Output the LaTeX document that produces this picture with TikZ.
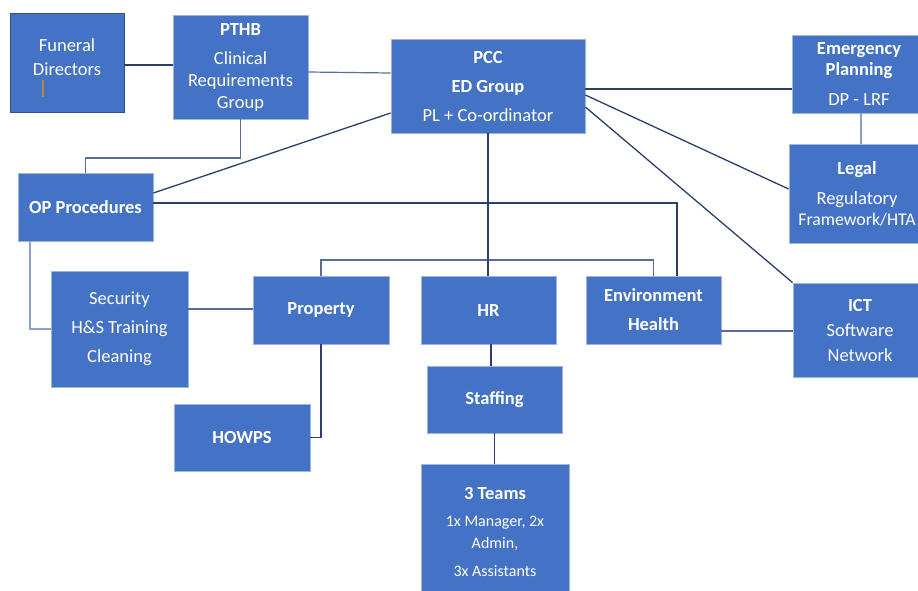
\documentclass[tikz,border=0pt]{standalone}
\usepackage{fontspec}
\setmainfont{Carlito}
\definecolor{boxfill}{HTML}{4472C4}
\definecolor{boxedge}{HTML}{9DB5E2}
\definecolor{darkedge}{HTML}{2F528F}
\definecolor{lnk}{HTML}{2C3F6C}
\definecolor{lnkmid}{HTML}{5A6D98}
\definecolor{lnklight}{HTML}{8AA2D0}
\definecolor{cursorc}{HTML}{B8873A}
\newcommand{\mfont}{\fontsize{18.5}{22}\selectfont}
\newcommand{\sfont}{\fontsize{16}{18}\selectfont}
\tikzset{
  box/.style={rectangle, fill=boxfill, draw=boxedge, line width=0.8pt, text=white,
    align=center, inner sep=0pt, font=\mfont},
  txt/.style={text=white, align=center, inner sep=0pt, font=\mfont},
  link/.style={draw=lnk, line width=1.3pt},
  linkmid/.style={draw=lnkmid, line width=1.2pt},
  linklight/.style={draw=lnklight, line width=1.2pt}
}
\begin{document}
\begin{tikzpicture}[x=1pt,y=-1pt]
\useasboundingbox (0,0) rectangle (918,590);
\fill[white] (0,0) rectangle (918,590);
\clip (0,0) rectangle (918,590);

% boxes
\node[box, draw=darkedge, minimum width=114pt, minimum height=99pt] (fun) at (67,62.5) {};
\node[txt] (funt) at (67,57) {Funeral\\[2pt]Directors};
\draw[cursorc, line width=1.2pt] (43,80) -- (43,97);

\node[box, minimum width=135pt, minimum height=104pt] (pthb) at (240.5,67)
  {\textbf{PTHB}\\[7pt]Clinical\\Requirements\\Group};
\node[box, minimum width=194pt, minimum height=94pt] (pcc) at (488,86)
  {\textbf{PCC}\\[7pt]\textbf{ED Group}\\[7pt]PL + Co-ordinator};
\node[box, minimum width=134pt, minimum height=78pt] (emer) at (859,74)
  {\textbf{Emergency}\\[-1pt]\textbf{Planning}\\[8pt]DP - LRF};
\node[box, minimum width=136pt, minimum height=99pt] (legal) at (857,193.5)
  {\textbf{Legal}\\[8pt]Regulatory\\[-1pt]{\fontsize{17.8}{21}\selectfont Framework/HTA}};
\node[box, minimum width=135pt, minimum height=68pt] (op) at (85.5,207)
  {\textbf{OP Procedures}};
\node[box, minimum width=137pt, minimum height=116pt] (sec) at (119.5,329)
  {Security\\[7pt]H\&S Training\\[7pt]Cleaning};
\node[box, minimum width=136pt, minimum height=68pt] (prop) at (321,310)
  {\textbf{Property}};
\node[box, minimum width=136pt, minimum height=67pt] (howps) at (242,437.5)
  {\textbf{HOWPS}};
\node[box, minimum width=135pt, minimum height=68pt] (hr) at (488.5,310)
  {\textbf{HR}};
\node[box, minimum width=135pt, minimum height=68pt] (env) at (653.5,310)
  {\textbf{Environment}\\[7pt]\textbf{Health}};
\node[box, minimum width=134pt, minimum height=94pt] (ict) at (860,330)
  {\textbf{ICT}\\[3pt]Software\\[3pt]Network};
\node[box, minimum width=135pt, minimum height=67pt] (staff) at (494.5,399.5)
  {\textbf{Staffing}};
\node[box, minimum width=148pt, minimum height=136pt] (teams) at (495,532)
  {\textbf{3 Teams}\\[5pt]{\sfont 1x Manager, 2x}\\{\sfont Admin,}\\[6pt]{\sfont 3x Assistants}};

% connectors
\draw[link] (fun.east |- 0,65) -- (pthb.west |- 0,65);
\draw[linkmid] (pthb.east |- 0,72) -- (pcc.west |- 0,73);
\draw[linkmid] (pthb.south) -- (pthb.south |- 0,158) -| (op.north);
\draw[link] (pcc.west |- 0,113) -- (op.east |- 0,193);
\draw[link] (op.east |- 0,203) -| ([xshift=23.5pt]env.north);
\draw[linklight] ([xshift=-55.5pt]op.south) |- (sec.west);
\draw[linkmid] (sec.east |- 0,309) -- (prop.west |- 0,309);
\draw[link] (prop.south) |- (howps.east);
\draw[linkmid] (prop.north) -- (prop.north |- 0,260) -| (env.north);
\draw[link] (pcc.south) -- (pcc.south |- hr.north);
\draw[link] ([xshift=2.5pt]hr.south) -- ([xshift=2.5pt]hr.south |- staff.north);
\draw[link] (staff.south) -- (staff.south |- teams.north);
\draw[link] (pcc.east |- 0,89) -- (emer.west |- 0,89);
\draw[link] (pcc.east |- 0,95) -- (legal.west |- 0,189);
\draw[link] (pcc.east |- 0,107) -- (ict.north west);
\draw[linklight] ([xshift=2pt]emer.south) -- ([xshift=2pt]emer.south |- legal.north);
\draw[linkmid] (env.east |- 0,331) -- (ict.west |- 0,331);
\end{tikzpicture}
\end{document}
